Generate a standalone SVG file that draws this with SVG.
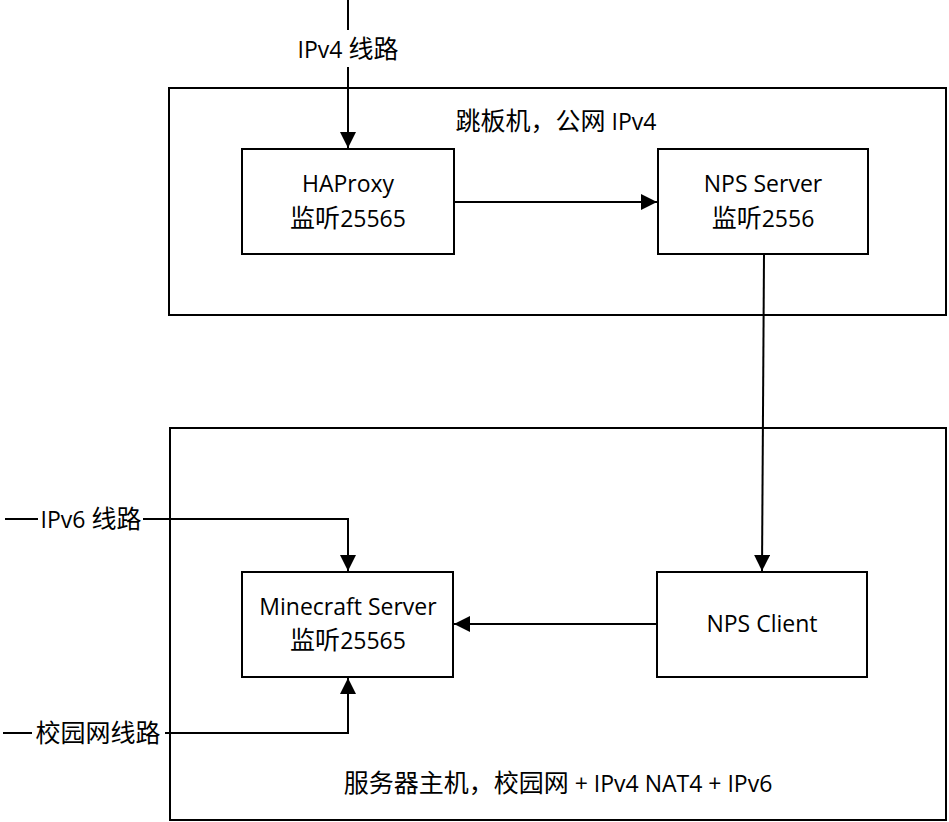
<svg xmlns="http://www.w3.org/2000/svg" width="949" height="822" viewBox="0 0 949 822">
<style>
.box{fill:#fff;stroke:#000;stroke-width:2}
.t{font-family:"Open Sans","Noto Sans CJK SC",sans-serif;font-size:23px;fill:#000;text-anchor:middle}
.cj{font-size:25px}
.c{fill:none;stroke:#000;stroke-width:2}
</style>
<defs>
<marker id="b" markerWidth="18" markerHeight="16" refX="16" refY="8" orient="auto" markerUnits="userSpaceOnUse">
<path d="M0,0 L16,8 L0,16 Z" fill="#000"/>
</marker>
</defs>
<rect width="949" height="822" fill="#fff"/>
<g id="jump-host">
<rect class="box" x="169" y="88" width="777" height="227"/>
<text class="t" x="556" y="130"><tspan class="cj">跳板机，公网</tspan> IPv4</text>
</g>
<g id="server-host">
<rect class="box" x="170" y="428" width="776" height="392"/>
<text class="t" x="558" y="792"><tspan class="cj">服务器主机，校园网</tspan> + IPv4 NAT4 + IPv6</text>
</g>
<g id="haproxy">
<rect class="box" x="242" y="149" width="212" height="105"/>
<text class="t" x="348" y="192">HAProxy</text>
<text class="t" x="348" y="227"><tspan class="cj">监听</tspan>25565</text>
</g>
<g id="nps-server">
<rect class="box" x="658" y="149" width="210" height="105"/>
<text class="t" x="763" y="192">NPS Server</text>
<text class="t" x="763" y="227"><tspan class="cj">监听</tspan>2556</text>
</g>
<g id="minecraft">
<rect class="box" x="242" y="572" width="211" height="105"/>
<text class="t" x="348" y="615">Minecraft Server</text>
<text class="t" x="348" y="649"><tspan class="cj">监听</tspan>25565</text>
</g>
<g id="nps-client">
<rect class="box" x="657" y="572" width="210" height="105"/>
<text class="t" x="762" y="632">NPS Client</text>
</g>
<g id="connectors">
<path class="c" d="M348,0 V30"/>
<path class="c" d="M348,67 V148" marker-end="url(#b)"/>
<text class="t" x="348" y="58">IPv4 <tspan class="cj">线路</tspan></text>
<path class="c" d="M454,202 H657" marker-end="url(#b)"/>
<path class="c" d="M764,254 L762,571" marker-end="url(#b)"/>
<path class="c" d="M657,624 H454" marker-end="url(#b)"/>
<path class="c" d="M5,519 H38"/>
<path class="c" d="M143,519 H348 V571" marker-end="url(#b)"/>
<text class="t" x="91" y="528">IPv6 <tspan class="cj">线路</tspan></text>
<path class="c" d="M3,733 H32"/>
<path class="c" d="M165,733 H348 V678" marker-end="url(#b)"/>
<text class="t" x="98" y="742"><tspan class="cj">校园网线路</tspan></text>
</g>
</svg>
